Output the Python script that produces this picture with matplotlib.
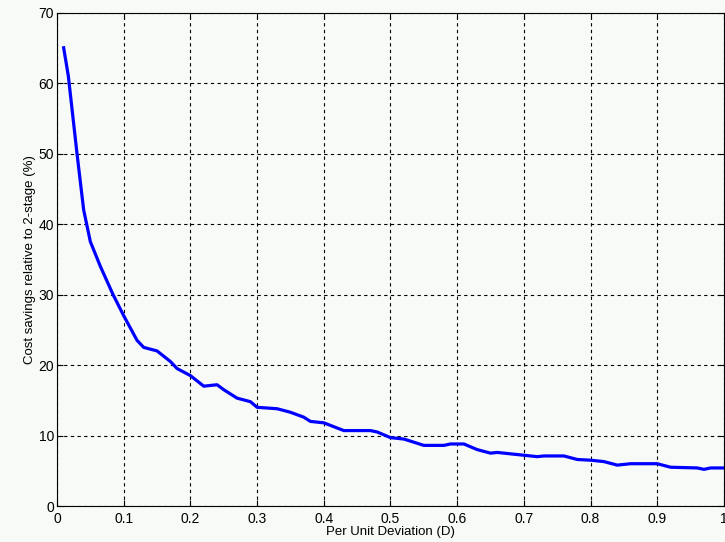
import matplotlib.pyplot as plt
import numpy as np

plt.rcParams['font.family'] = ['Liberation Sans', 'DejaVu Sans']

# per unit deviation vs cost savings (%)
dev = [0.01, 0.017, 0.03, 0.04, 0.05, 0.065, 0.084, 0.1, 0.12, 0.13, 0.15,
       0.17, 0.18, 0.2, 0.22, 0.24, 0.25, 0.27, 0.29, 0.3, 0.33, 0.35,
       0.37, 0.38, 0.4, 0.43, 0.47, 0.48, 0.5, 0.52, 0.53, 0.55, 0.58,
       0.59, 0.61, 0.63, 0.65, 0.66, 0.67, 0.7, 0.72, 0.73, 0.76, 0.78,
       0.8, 0.82, 0.84, 0.86, 0.9, 0.92, 0.96, 0.97, 0.98, 1.0]
savings = [65, 61, 50, 42, 37.5, 34, 30, 27, 23.5, 22.5, 22,
           20.5, 19.5, 18.5, 17, 17.2, 16.5, 15.3, 14.8, 14, 13.8, 13.3,
           12.6, 12, 11.8, 10.7, 10.7, 10.5, 9.7, 9.5, 9.2, 8.6, 8.6,
           8.8, 8.8, 8.0, 7.5, 7.6, 7.5, 7.2, 7.0, 7.1, 7.1, 6.6,
           6.5, 6.3, 5.8, 6.0, 6.0, 5.5, 5.4, 5.2, 5.4, 5.4]

xticks = np.arange(0, 1.01, 0.1)
xlabels = ['0', '0.1', '0.2', '0.3', '0.4', '0.5', '0.6', '0.7', '0.8', '0.9', '1']
yticks = np.arange(0, 71, 10)

bg = '#f7faf7'
fig = plt.figure(figsize=(7.25, 5.42), dpi=100, facecolor=bg)
ax = fig.add_axes([0.0786, 0.0664, 0.92, 0.9105], facecolor=bg)

ax.plot(dev, savings, color='#0000ff', linewidth=2.3)

ax.set_xlim(0, 1)
ax.set_ylim(0, 70)
ax.set_xticks(xticks)
ax.set_xticklabels(xlabels)
ax.set_yticks(yticks)
ax.tick_params(direction='in', length=4, labelsize=10, top=True, right=True)
ax.tick_params(axis='x', pad=4)
ax.tick_params(axis='y', pad=2)
ax.grid(True, color='black', linestyle=(0, (3, 3)), linewidth=0.8)
for s in ax.spines.values():
    s.set_linewidth(0.8)

ax.set_xlabel('Per Unit Deviation (D)', fontsize=9.5, labelpad=0)
ax.set_ylabel('Cost savings relative to 2-stage (%)', fontsize=9.5, labelpad=2)

fig.savefig('out.png', dpi=100, facecolor=bg)
